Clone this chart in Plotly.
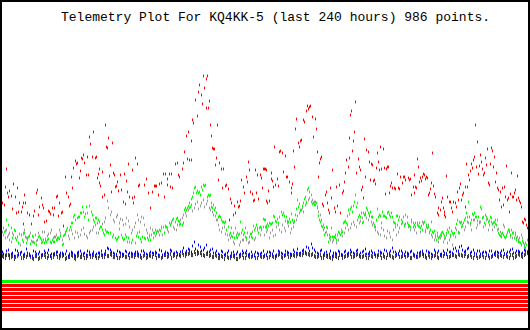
import numpy as np
import plotly.graph_objects as go

TITLE = "Telemetry Plot For KQ4KK-5 (last 240 hours) 986 points."

# time is expressed as a sample slot index (0..530 spans the 240 hours)
red_points = [
(1,78),(2,57),(4,55),(5,73),(6,91),(7,67),(8,63),(9,69),(11,64),(12,51),(13,76),(15,63),(16,47),(17,72),(18,48),(19,57),(21,48),(22,53),(23,57),(23,36),
(24,65),(25,57),(27,47),(29,45),(31,36),(33,44),(34,49),(36,67),(37,70),(38,45),(39,53),(41,62),(42,55),(43,52),(44,38),(46,39),(48,49),(49,48),(50,46),(52,52),
(53,45),(54,52),(56,63),(57,64),(58,44),(59,57),(61,47),(62,48),(63,34),(65,83),(66,67),(68,63),(69,54),(70,56),(71,83),(72,72),(73,92),(75,99),(76,96),(77,97),
(79,82),(80,89),(81,102),(82,101),(83,105),(84,97),(86,85),(87,103),(88,85),(89,123),(90,116),(92,103),(93,128),(95,102),(96,103),(97,82),(98,86),(99,91),(99,77),(100,74),
(102,88),(102,63),(104,65),(105,135),(106,113),(107,112),(108,122),(109,84),(110,95),(111,68),(112,117),(113,87),(114,85),(115,73),(116,74),(117,78),(118,69),(120,85),(121,70),(123,58),
(124,86),(125,56),(126,79),(127,68),(128,96),(129,63),(132,62),(132,90),(133,57),
(134,63),(135,102),(137,96),(138,74),(139,75),(144,75),(146,81),(148,67),(150,52),(152,68),(154,74),(155,74),(156,74),(158,65),(159,76),(161,77),(163,86),(164,63),(165,86),(167,81),
(167,75),(169,86),(170,73),(171,86),(172,72),(175,96),(177,97),(178,85),(179,83),(182,91),(183,97),(184,108),(186,124),(187,101),(188,128),(189,100),(191,119),(191,100),(192,140),(193,137),
(195,160),(197,144),(198,168),(199,175),(201,165),(202,156),(203,184),(204,172),(206,181),(206,152),(207,184),(208,152),(209,159),(210,135),(211,124),(212,112),(213,111),(214,111),(215,95),(216,102),
(217,135),(218,80),(219,97),(221,91),(222,72),(223,91),(225,74),(226,75),(228,71),(229,40),(230,61),(231,57),(233,45),(234,54),(235,47),(237,58),(238,53),(239,54),(240,59),(241,80),
(243,73),(244,67),(246,83),(247,78),(248,98),(249,90),(250,68),(252,66),(253,59),(254,60),(255,90),(256,67),(257,85),(258,61),(260,85),(261,82),(262,72),(263,91),(264,91),(265,91),(266,59),
(266,90),(267,57),(268,69),(269,59),(271,81),(271,87),(272,79),(273,73),(274,113),(275,75),(277,81),(278,74),(279,108),(280,109),(282,107),(283,88),(285,104),(286,83),(287,83),(289,78),
(291,72),(291,67),(292,76),(293,109),(294,93),(295,131),(296,141),(298,117),(299,113),(300,119),(301,120),(303,140),(304,138),(306,149),(307,154),(308,151),(309,153),(310,154),(312,143),(313,123),
(315,141),(316,131),(317,108),(318,83),(319,97),(320,101),(321,103),(322,56),(323,54),(325,65),(326,68),(327,57),(328,50),(329,47),(330,72),(331,62),(332,90),(334,52),(335,48),(336,73),
(337,54),(339,75),(340,47),(342,67),(343,69),(344,78),(345,87),(346,100),(348,93),(349,122),(349,102),(350,145),(351,149),(352,109),(353,119),(354,128),(355,158),(356,87),(358,101),(359,93),
(360,90),(361,70),(362,73),(363,62),(364,121),(365,83),(366,110),(368,108),(369,98),(370,80),(371,96),(372,95),(373,79),(374,80),(375,76),(376,92),(377,107),(378,98),(379,90),(380,113),
(381,91),(383,111),(384,92),(385,66),(386,91),(387,93),(388,93),(389,67),(390,74),(391,77),(392,72),(394,72),(395,71),(397,86),(398,72),
(399,71),(400,83),(402,77),(403,83),(404,83),(405,80),(408,82),(409,80),(410,81),(411,65),(413,73),(414,67),(414,85),(415,73),(416,72),(417,101),(418,93),(419,78),(420,82),(421,79),
(422,83),(423,86),(424,85),(425,81),(426,83),(427,82),(428,65),(429,67),(430,71),(431,77),(432,107),(433,74),(434,66),(435,63),(437,47),(438,45),(438,52),(440,50),(441,58),(442,62),
(443,52),(444,48),(444,45),(445,43),(446,84),(447,63),(449,58),(450,58),(451,52),(452,48),(453,58),(455,57),(456,53),(457,68),(458,60),(459,72),(460,76),(461,60),(462,65),(463,67),
(465,73),(465,53),(466,96),(467,73),(468,85),(469,80),(470,89),(471,96),(472,92),(473,100),(474,103),(475,135),(476,93),(477,118),(478,86),(479,94),(480,105),(481,98),(482,91),(483,85),
(484,87),(485,102),(486,95),(487,111),(488,77),(489,75),(490,96),(491,112),(492,109),(493,93),(494,103),(495,78),(496,87),(497,72),(498,70),(499,60),(500,68),(501,53),(502,72),(503,55),
(504,73),(505,63),(506,94),(507,60),(508,62),(509,48),(510,66),(511,87),(512,63),(513,63),(514,67),(515,70),(516,60),(517,84),(518,62),(519,59),(520,57),(521,53),(522,38),(523,37),
(524,41),(525,40),(526,35),(527,32),(528,29),
]

green_points = [
(1,36),(3,32),(4,28),(5,29),(6,40),(7,23),(8,35),(9,27),(11,32),(12,22),(13,25),(14,30),(15,29),(16,20),(17,23),(18,17),(19,26),(21,25),(22,20),(23,26),
(23,18),(24,27),(25,23),(26,17),(27,22),(28,23),(29,24),(30,16),(31,19),(32,24),(33,18),(34,17),(36,15),(37,20),(38,23),(40,22),(41,17),(42,18),(43,20),(44,17),
(45,19),(46,18),(47,20),(48,21),(50,18),(51,17),(52,20),(53,18),(54,18),(55,23),(56,20),(57,22),(58,22),(59,21),(60,24),(62,15),(63,16),(64,25),(65,28),(66,30),
(67,32),(69,30),(70,33),(71,37),(72,37),(73,43),(74,45),(75,40),(77,42),(78,43),(79,43),(80,47),(81,47),(82,53),(83,48),(84,43),(85,46),(86,53),(87,47),(88,40),
(89,54),(91,48),(92,45),(93,40),(94,38),(95,42),(96,42),(97,37),(98,40),(99,38),(100,33),(102,30),(103,27),(104,25),(105,30),(106,28),(107,28),(108,27),(110,27),(112,23),
(113,25),(115,22),(116,20),(117,21),(118,23),(119,31),(121,25),(122,22),(123,20),(124,21),(125,25),(126,23),(127,18),(128,22),(129,18),(131,17),(132,20),
(135,17),(136,24),(137,27),(138,23),(139,28),(140,21),(141,18),(142,23),(144,22),(145,21),(147,22),(148,20),(149,23),(150,20),(151,25),(153,27),(154,27),(155,30),(156,28),(157,29),
(159,25),(160,29),(161,32),(163,33),(164,27),(165,34),(166,33),(167,32),(169,37),(170,35),(171,38),(172,40),(173,41),(175,38),(176,41),(177,42),(178,39),(179,35),(180,36),(182,35),
(183,37),(184,50),(185,52),(186,50),(187,52),(188,54),(189,57),(190,53),(191,61),(192,63),(193,67),(194,72),(195,73),(196,67),(197,69),(198,67),(199,68),(200,65),(201,73),(202,70),
(203,75),(204,74),(205,75),(207,63),(208,65),(209,64),(210,65),(211,57),(211,53),(212,52),(213,55),(214,50),(215,52),(216,47),(217,40),(218,43),(219,44),(220,43),(221,40),(222,38),
(223,38),(224,37),(225,38),(226,30),(228,33),(229,25),(230,27),(231,32),(232,23),(233,27),(234,22),(235,32),(236,23),(237,27),(238,25),(239,26),(240,38),(241,27),(242,30),(243,20),
(244,27),(245,32),(246,22),(247,27),(249,18),(250,26),(251,23),(252,22),(253,34),(254,30),(255,32),(256,35),(257,32),(258,27),(259,32),(260,33),(261,30),(263,41),(264,40),(265,33),(266,32),
(265,40),(266,34),(267,36),(268,34),(269,37),(270,36),(271,36),(272,37),(273,44),(274,43),(275,39),(276,38),(277,41),(278,37),(279,43),(281,48),(282,45),(283,47),(284,44),(285,39),
(286,43),(287,39),(288,38),(289,41),(290,38),(291,46),(292,40),(293,37),(294,39),(295,45),(296,51),(297,60),(298,53),(299,56),(300,49),(301,50),(302,54),(303,57),(304,61),(305,63),
(306,57),(307,70),(308,72),(309,68),(311,58),(312,56),(313,57),(314,55),(315,58),(316,57),(317,53),(318,44),(319,40),(320,38),(321,34),(322,33),(323,30),(324,25),(325,27),(326,33),
(327,32),(328,18),(329,25),(330,23),(331,32),(332,23),(333,20),(334,23),(335,22),(336,20),(337,25),(338,28),(339,27),(340,25),(341,27),(342,28),(343,37),(344,38),(345,39),(346,37),
(347,44),(348,50),(349,46),(350,51),(351,53),(352,48),(353,54),(354,58),(355,65),(356,53),(357,57),(358,43),(359,45),(360,43),(361,47),(362,37),(363,38),(364,45),(365,47),(366,52),
(367,50),(368,47),(369,44),(370,48),(371,43),(372,43),(373,37),(374,35),(375,33),(376,40),(377,51),(378,43),(379,45),(380,44),(381,37),(382,48),(383,44),(384,44),(385,43),(386,42),
(387,47),(388,48),(389,45),(390,43),(391,47),(392,43),(393,38),(394,37),(395,36),(396,44),(397,35),(398,40),
(397,44),(399,43),(401,36),(402,38),(403,43),(404,34),(405,36),(407,37),(408,35),(409,34),(410,33),(411,38),(413,33),(414,35),(415,37),(415,33),(417,37),(418,34),(419,37),(420,32),
(421,34),(422,30),(423,37),(424,38),(425,28),(426,35),(427,32),(428,33),(429,27),(430,30),(431,38),(432,28),(433,27),(434,29),(435,23),(436,20),(437,24),(438,22),(439,23),(440,25),
(441,27),(442,28),(443,26),(444,24),(445,22),(446,27),(447,30),(448,28),(449,32),(450,25),(451,29),(452,27),(453,26),(454,27),(455,32),(456,36),(457,40),(458,27),(459,38),(460,37),
(461,38),(462,34),(463,37),(464,40),(465,42),(466,47),(467,43),(468,58),(469,43),(470,37),(471,40),(472,46),(473,45),(474,47),(475,43),(476,43),(477,39),(478,43),(479,38),(480,53),
(481,51),(482,42),(483,43),(484,37),(485,45),(486,43),(487,41),(488,38),(489,39),(490,43),(491,42),(492,36),(493,37),(494,38),(495,40),(496,35),(497,30),(498,27),(499,25),(500,24),
(501,23),(502,27),(503,25),(504,23),(505,22),(506,24),(507,27),(508,30),(509,28),(510,25),(511,30),(512,27),(513,27),(514,22),(515,25),(516,20),(517,23),(518,18),(519,22),(520,17),
(521,15),(522,19),(523,17),(524,13),(525,12),(526,15),(527,9),(528,7),
]

# evenly spaced series: "_a" sampled every 3 slots from slot 2, "_b" every 3 slots from slot 3
gray_values_a = [
28,22,25,18,30,23,15,27,22,24,18,25,27,20,28,24,27,22,25,30,20,26,24,30,22,27,25,32,24,27,30,35,27,33,38,59,45,40,43,37,40,36,39,27,33,
45,38,42,30,25,30,24,28,33,27,30,35,33,30,38,42,47,50,55,52,58,54,60,56,52,48,44,35,28,33,25,22,18,25,15,20,23,17,26,20,30,25,33,28,
22,30,25,35,28,32,37,27,33,40,47,52,55,60,65,58,52,45,35,28,22,18,25,20,30,27,35,32,38,33,37,42,45,40,38,33,28,25,30,22,27,20,33,28,
40,35,43,30,37,27,33,38,30,35,25,20,27,22,18,25,20,15,23,28,33,30,38,35,40,32,37,42,35,30,38,33,40,28,35,25,30,22,27,20,25,15,20,
]
gray_values_b = [
25,30,20,27,22,17,25,30,20,27,23,19,24,28,21,26,30,23,20,27,24,29,21,26,28,23,30,26,22,29,33,27,31,36,42,52,48,38,45,41,35,42,33,30,37,
40,43,35,27,32,22,26,30,25,33,28,37,31,35,40,45,44,52,49,56,51,57,53,59,50,45,40,30,32,26,20,24,16,22,18,25,20,23,28,22,27,32,25,30,
27,24,33,30,35,29,34,31,38,44,50,48,58,62,60,55,48,40,32,25,20,23,17,27,24,32,30,36,35,40,39,47,42,45,35,30,26,32,24,29,23,30,25,32,
37,45,33,40,30,35,28,36,33,28,23,25,18,24,21,17,23,25,30,27,35,33,37,30,40,35,38,33,40,35,30,36,31,26,33,28,23,27,22,18,22,17,12,
]
blue_values_a = [
8,5,10,6,4,9,7,5,11,6,4,8,6,5,9,7,4,6,8,5,7,6,4,8,5,7,9,6,5,8,6,4,7,9,6,12,10,7,5,8,6,9,5,7,6,
8,5,9,6,4,7,8,5,9,6,7,10,6,8,5,9,7,11,8,18,9,13,10,15,8,11,7,6,9,5,7,4,8,6,5,9,7,5,8,4,7,6,9,5,
8,6,4,9,7,5,8,6,10,7,5,9,8,12,16,10,7,9,5,8,6,4,7,9,5,8,6,10,7,9,5,8,11,6,9,7,5,8,6,9,7,12,8,6,
9,5,7,8,6,4,7,9,5,8,6,10,7,5,9,6,8,7,12,9,14,8,11,7,10,6,9,7,8,5,9,6,8,7,10,6,8,11,7,9,6,10,8,
]
blue_values_b = [
6,9,5,7,10,5,8,6,7,4,9,6,8,5,7,10,6,5,8,7,5,9,6,7,4,8,6,7,9,5,8,6,7,5,9,11,8,6,9,7,5,8,7,6,8,
6,9,7,5,8,6,7,10,5,8,6,9,7,5,8,12,9,10,14,11,15,9,12,8,10,7,9,5,8,6,9,7,5,8,6,7,9,6,5,8,6,7,5,8,
7,9,5,8,6,9,7,5,8,11,7,10,13,9,12,8,6,10,7,5,9,7,6,8,5,9,7,8,6,10,7,9,6,8,7,5,9,7,10,6,9,8,6,9,
7,8,6,9,5,7,8,6,9,7,5,8,9,6,7,10,8,11,9,13,10,9,12,8,7,9,6,8,7,9,5,8,7,9,6,8,10,7,9,8,7,9,6,
]
dark_values_a = [
4,2,5,3,1,4,6,2,3,5,2,4,1,3,5,2,4,3,6,2,4,1,3,5,2,4,3,5,2,6,3,4,2,5,3,4,6,3,5,2,4,3,5,4,3,
5,3,4,2,6,3,5,4,2,5,3,6,4,3,5,7,4,6,5,8,6,7,5,6,4,3,5,2,4,1,3,2,4,1,3,5,2,4,3,5,2,4,3,5,
3,4,2,5,3,4,6,3,5,4,6,5,7,6,5,4,3,5,2,4,3,1,4,2,5,3,4,6,3,5,4,3,5,2,4,6,3,5,4,2,5,3,4,6,
3,5,4,2,5,3,4,6,3,5,2,4,3,5,4,6,3,5,4,6,5,4,3,5,2,4,3,5,2,4,3,6,4,5,3,4,2,5,3,6,4,5,7,
]
dark_values_b = [
3,5,2,4,3,6,2,4,5,3,1,4,2,5,3,4,2,6,3,4,5,2,3,4,1,5,3,2,4,3,5,2,4,3,6,4,5,3,2,4,5,3,2,4,5,
4,2,5,3,4,6,2,4,3,5,4,2,5,6,4,5,6,7,5,6,7,5,4,6,5,3,4,2,3,5,2,4,3,1,4,2,5,3,4,2,5,3,4,2,
5,3,4,6,2,5,3,5,4,6,5,7,6,5,6,3,4,2,5,3,2,4,3,5,2,4,5,3,4,6,3,4,2,5,3,4,5,2,3,5,4,2,5,3,
4,3,5,2,4,3,5,4,2,3,4,5,2,4,6,3,4,5,3,5,4,6,4,3,5,2,4,3,5,2,4,5,3,4,6,3,5,2,4,5,3,6,5,
]

# digital status bits shown as bands under the plot (1 = on/green, 0 = off/red)
bits = [1, 0, 0, 0, 0, 0, 0, 0]

W, H = 530, 330
t_a = np.arange(2, 2 + 3 * len(gray_values_a), 3)
t_b = np.arange(3, 3 + 3 * len(gray_values_b), 3)

red_t, red_v = zip(*red_points)
green_t, green_v = zip(*green_points)

fig = go.Figure()

def pts(t, v, color, size=2):
    fig.add_trace(go.Scatter(
        x=list(t), y=list(v), mode="markers", hoverinfo="skip", showlegend=False,
        marker=dict(symbol="line-ns", size=size, color=color,
                    line=dict(color=color, width=1)),
    ))

GRAY, GREEN, RED, BLUE, DARK = "#999999", "#00FF00", "#FF0000", "#0000FF", "#404040"
pts(t_a, gray_values_a, GRAY)
pts(t_b, gray_values_b, GRAY)
pts(green_t, green_v, GREEN)
pts(red_t, red_v, RED)
pts(t_a, dark_values_a, DARK, size=3)
pts(t_b, dark_values_b, DARK, size=3)
pts(t_a, blue_values_a, BLUE)
pts(t_b, blue_values_b, BLUE)

for i, b in enumerate(bits):
    lane = -21.5 - 4 * i
    fig.add_trace(go.Scatter(
        x=[0.5, 529.5], y=[lane, lane], mode="lines", hoverinfo="skip", showlegend=False,
        line=dict(color=GREEN if b else RED, width=3),
    ))

fig.add_annotation(
    x=59 / W, y=1 - 17 / H, xref="paper", yref="paper", xanchor="left", yanchor="middle",
    text=TITLE, showarrow=False,
    font=dict(family="Liberation Mono", size=13, color="#000000"),
)
fig.add_shape(type="rect", xref="paper", yref="paper", x0=0, y0=0, x1=1, y1=1,
              line=dict(color="#000000", width=4), layer="above")

fig.update_layout(
    width=W, height=H, margin=dict(l=0, r=0, t=0, b=0),
    paper_bgcolor="white", plot_bgcolor="white",
    xaxis=dict(visible=False, range=[-0.5, 529.5], fixedrange=True),
    yaxis=dict(visible=False, range=[-70, 260], fixedrange=True),
)
fig.write_html("out.html", config={"displayModeBar": False})
